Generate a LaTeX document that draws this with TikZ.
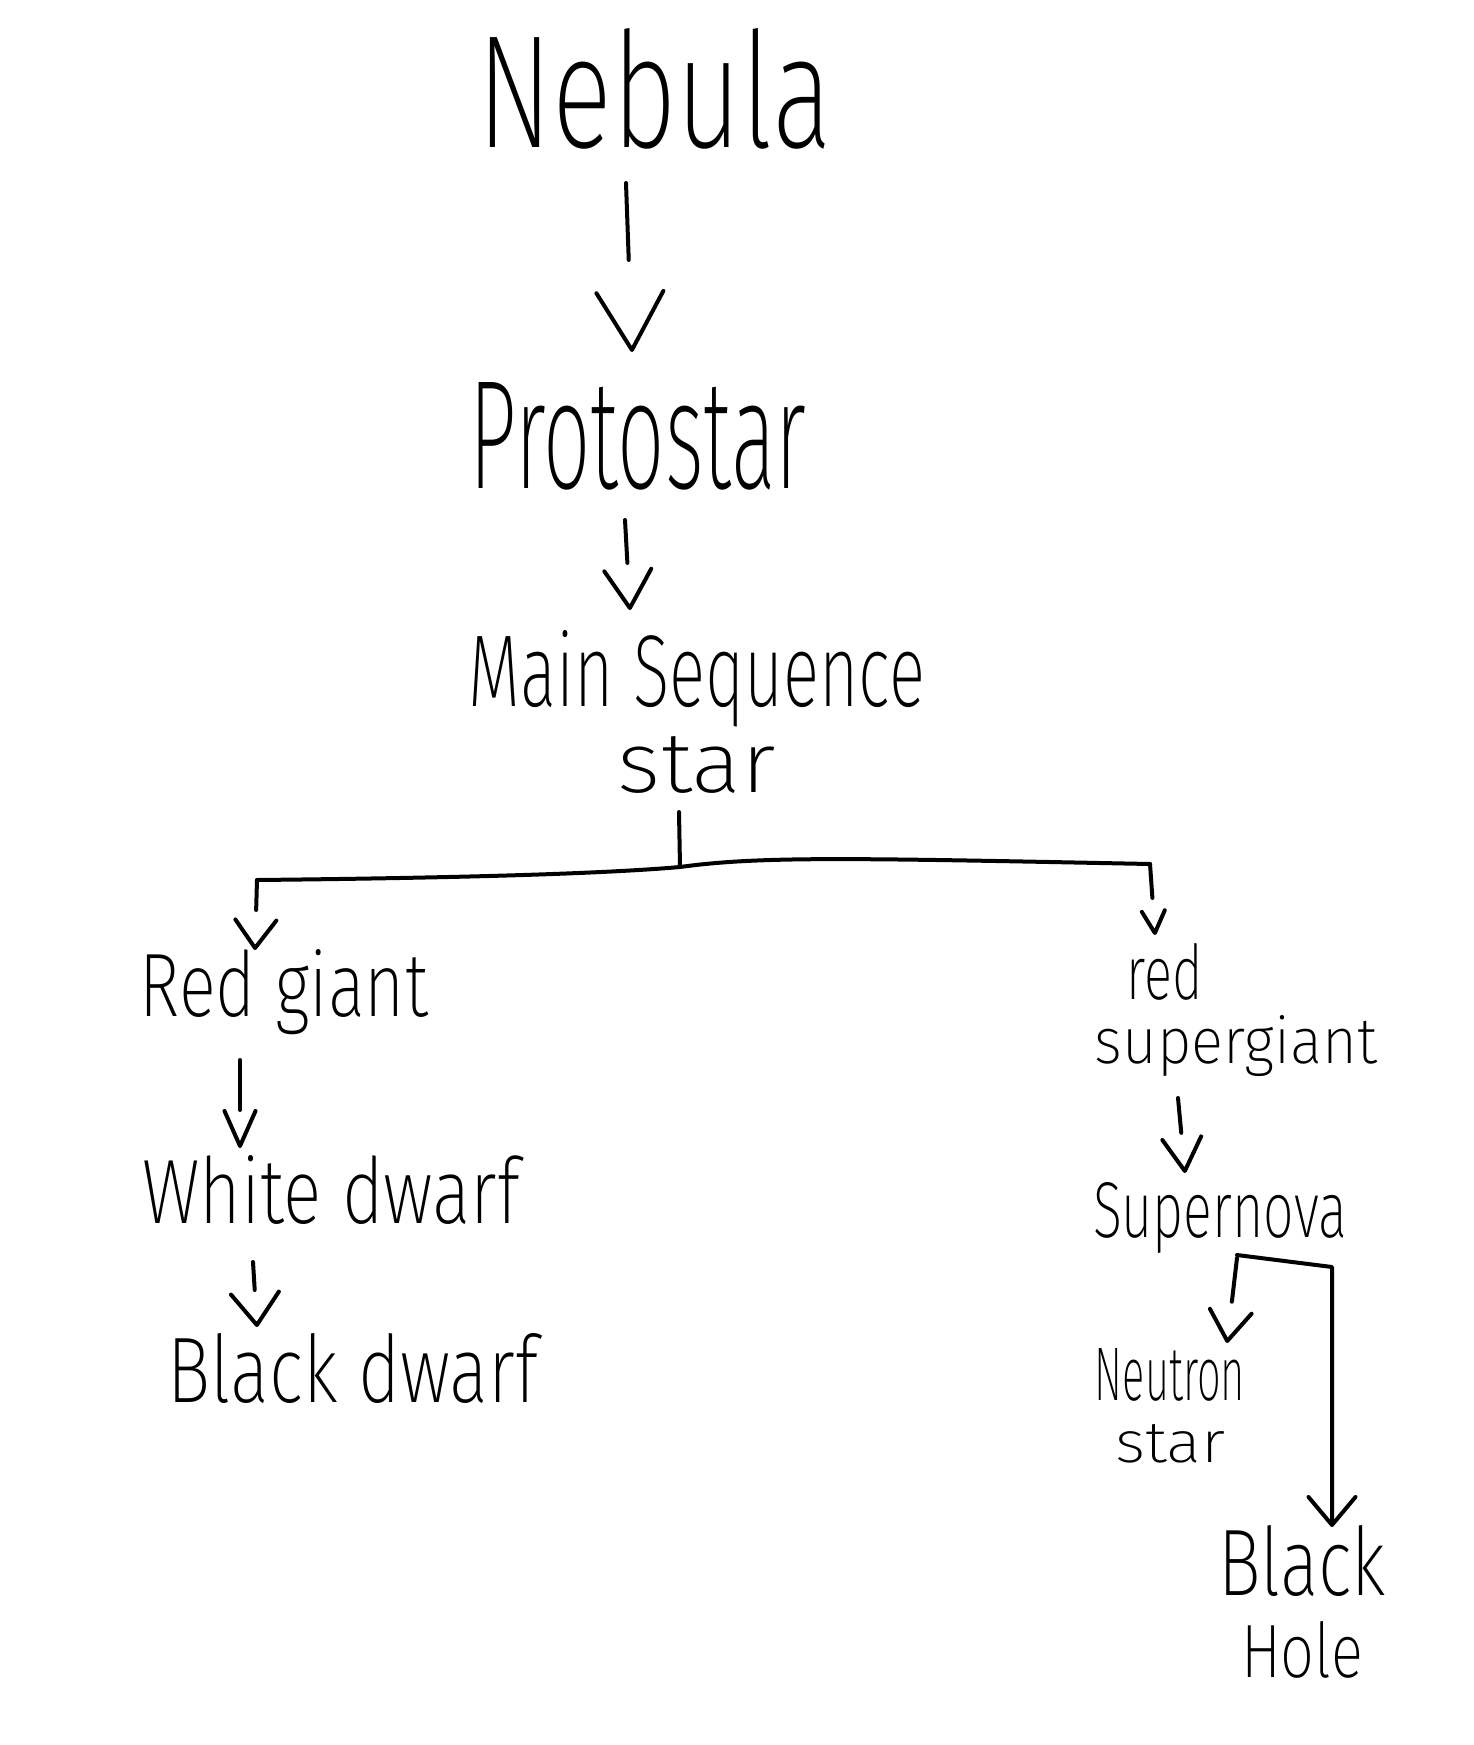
\documentclass[tikz,border=0pt]{standalone}
\usepackage{fontspec}
\setmainfont{Fira Sans ExtraLight}
\usepackage{graphicx}
\usetikzlibrary{arrows.meta,calc}
\newcommand{\hwt}[3]{\resizebox{#1}{#2}{#3}}
\newcommand{\hwr}[3]{\smash{\resizebox{#1}{#2}{#3}}}
\tikzset{
  lbl/.style={anchor=base, inner sep=0pt, text=black, font=\fontsize{20}{24}\selectfont},
  ln/.style={line width=4pt, line cap=round, line join=round, draw=black},
  vhead/.style 2 args={-{Straight Barb[length=#1,width=#2,round]}},
  seg/.style={dash pattern=on #1 off 3000pt},
}
\begin{document}
\begin{tikzpicture}[x=1pt,y=-1pt]
\useasboundingbox[fill=white] (0,0) rectangle (1474,1745);
% nodes
\node[lbl] (nebula) at (655,147) {\hwt{355pt}{119pt}{Nebula}};
\node[lbl] (proto) at (638,488) {\hwt{337pt}{106pt}{Protostar}};
\node[lbl, font=\fontsize{10}{86}\selectfont] (main) at (697,706)
  {\begin{tabular}[t]{@{}c@{}}\hwr{456pt}{76pt}{Main Sequence}\\\hwr{158pt}{56pt}{star}\end{tabular}};
\node[lbl] (redg) at (284,1016) {\hwt{288pt}{67pt}{Red giant}};
\node[lbl] (whited) at (331,1223) {\hwt{377pt}{68pt}{White dwarf}};
\node[lbl] (blackd) at (353,1402) {\hwt{370pt}{69pt}{Black dwarf}};
\node[lbl, font=\fontsize{10}{64}\selectfont] (redsg) at (1236,999)
  {\begin{tabular}[t]{@{}l@{}}\hspace*{32pt}\hwr{76pt}{56pt}{red}\\\hwr{282pt}{48pt}{supergiant}\end{tabular}};
\node[lbl] (super) at (1220,1237) {\hwt{254pt}{55pt}{Supernova}};
\node[lbl, font=\fontsize{10}{62}\selectfont] (neutron) at (1170,1400)
  {\begin{tabular}[t]{@{}c@{}}\hwr{150pt}{52pt}{Neutron}\\\hwr{110pt}{38pt}{star}\end{tabular}};
\node[lbl, font=\fontsize{10}{82}\selectfont] (blackh) at (1302,1595)
  {\begin{tabular}[t]{@{}c@{}}\hwr{168pt}{70pt}{Black}\\\hwr{122pt}{56pt}{Hole}\end{tabular}};
% branching bar
\coordinate (jn) at (680,867);
\coordinate (lb) at (257,880);
\coordinate (rb) at (1150,864);
% connectors
\draw[ln, vhead={58pt}{67pt}, seg=77pt] ($(nebula.base)+(-29,36)$) -- ($(proto.base)+(-6,-136)$);
\draw[ln, vhead={38pt}{47pt}, seg=43pt] ($(proto.base)+(-13,32)$) -- ($(main.base)+(-67,-96)$);
\draw[ln] ($(main.base)+(-18,106)$) -- (jn);
\draw[ln] (lb) .. controls (450,878) and (600,874) .. (jn) .. controls (760,856) and (850,858) .. (rb);
\draw[ln, vhead={28pt}{41pt}, seg=30pt] (lb) -- ($(redg.base)+(-29,-66)$);
\draw[ln, vhead={22pt}{23pt}, seg=34pt] (rb) -- ($(redsg.base)+(-81,-64)$);
\draw[ln, vhead={35pt}{31pt}, seg=50pt] ($(redg.base)+(-44,44)$) -- ($(whited.base)+(-91,-75)$);
\draw[ln, vhead={32pt}{48pt}, seg=28pt] ($(whited.base)+(-78,39)$) -- ($(blackd.base)+(-96,-75)$);
\draw[ln, vhead={33pt}{39pt}, seg=35pt] ($(redsg.base)+(-58,99)$) -- ($(super.base)+(-35,-64)$);
\draw[ln, vhead={30pt}{42pt}, seg=44pt] ($(super.base)+(17,21)$) -- ($(neutron.base)+(57,-57)$);
\draw[ln, vhead={28pt}{47pt}] ($(super.base)+(17,18)$) -- ++(95,12) -- ($(blackh.base)+(30,-68)$);
\end{tikzpicture}
\end{document}
